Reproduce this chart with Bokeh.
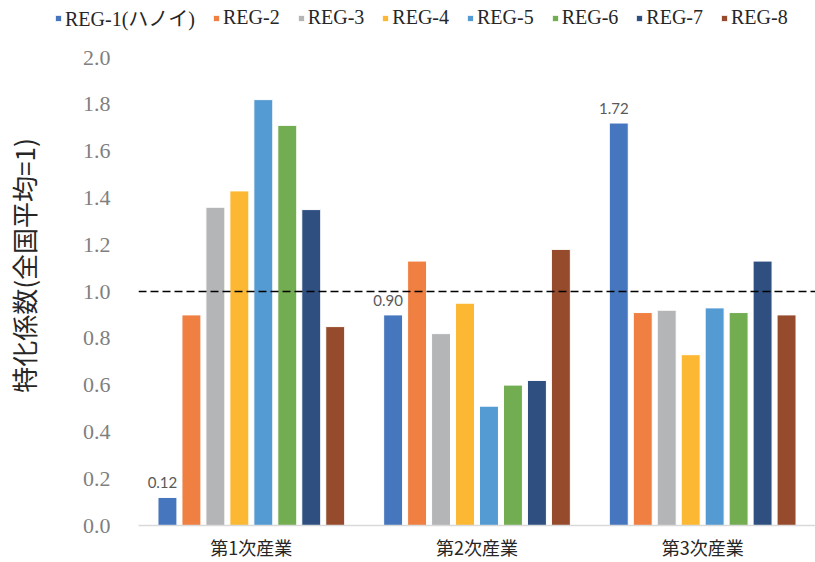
from bokeh.plotting import figure
from bokeh.layouts import column
from bokeh.models import (ColumnDataSource, FactorRange, Range1d, FixedTicker,
                          NumeralTickFormatter, Span, Legend, LegendItem)
from bokeh.transform import dodge
from bokeh.core.properties import value
from bokeh.embed import file_html
from bokeh.resources import INLINE

# Industry sectors on the x axis
sectors = ["第1次産業", "第2次産業", "第3次産業"]

# Regions (one bar each per sector)
regions = ["REG-1(ハノイ)", "REG-2", "REG-3", "REG-4",
           "REG-5", "REG-6", "REG-7", "REG-8"]

# Specialisation coefficient by region, per sector
reg1 = [0.12, 0.90, 1.72]
reg2 = [0.90, 1.13, 0.91]
reg3 = [1.36, 0.82, 0.92]
reg4 = [1.43, 0.95, 0.73]
reg5 = [1.82, 0.51, 0.93]
reg6 = [1.71, 0.60, 0.91]
reg7 = [1.35, 0.62, 1.13]
reg8 = [0.85, 1.18, 0.90]

national_average = 1.0
y_ticks = [0.0, 0.2, 0.4, 0.6, 0.8, 1.0, 1.2, 1.4, 1.6, 1.8, 2.0]
y_title = "特化係数(全国平均=1)"
# two ideographic spaces lift the visible title a little above mid-height
y_title_pad = "\u3000\u3000"

colors = ["#4677be", "#f07f42", "#b4b5b7", "#fdb833",
          "#559bd3", "#72ad52", "#2e4f80", "#964b2d"]

series = [reg1, reg2, reg3, reg4, reg5, reg6, reg7, reg8]
data = {"sector": sectors}
for i, s in enumerate(series):
    data[f"r{i}"] = s
data["lbl"] = [f"{v:.2f}" for v in reg1]
source = ColumnDataSource(data)

# ---- main bar chart ----
p = figure(x_range=FactorRange(*sectors), y_range=Range1d(0, 2.0),
           width=815, height=527, output_backend="svg", toolbar_location=None,
           min_border_left=138, min_border_right=0,
           min_border_top=22, min_border_bottom=35)
p.frame_align = False
p.outline_line_color = None
p.xgrid.visible = False
p.ygrid.visible = False
p.background_fill_color = "white"
p.border_fill_color = "white"

step = 0.1062
bar_w = 0.084
for i in range(8):
    off = (i - 3.5) * step
    p.vbar(x=dodge("sector", off, range=p.x_range), top=f"r{i}", width=bar_w,
           source=source, fill_color=colors[i], line_color="white", line_width=1)

# value labels on the REG-1 bars
p.text(x=dodge("sector", -3.5 * step, range=p.x_range), y="r0", text="lbl",
       source=source, text_align="center", text_baseline="bottom",
       y_offset=-9, x_offset=-5,
       text_font=value("Lato"), text_font_size="15px", text_color="#595959")

# national average reference line
p.add_layout(Span(location=national_average, dimension="width",
                  line_color="black", line_dash="8 4", line_width=1.3))

p.yaxis.ticker = FixedTicker(ticks=y_ticks)
p.yaxis.formatter = NumeralTickFormatter(format="0.0")
p.yaxis.major_label_text_font = "Liberation Serif"
p.yaxis.major_label_text_font_size = "22px"
p.yaxis.major_label_text_color = "#7f7f7f"
p.yaxis.axis_line_color = None
p.yaxis.major_tick_line_color = None
p.yaxis.minor_tick_line_color = None
p.yaxis.major_tick_out = 0
p.yaxis.minor_tick_out = 0
p.yaxis.major_label_standoff = 28
p.yaxis.axis_label = y_title_pad + y_title
p.yaxis.axis_label_standoff = 38
p.yaxis.axis_label_text_font = "Noto Sans CJK JP"
p.yaxis.axis_label_text_font_size = "26px"
p.yaxis.axis_label_text_font_style = "normal"
p.yaxis.axis_label_text_color = "#262626"

p.xaxis.axis_line_color = "#d9d9d9"
p.xaxis.axis_line_width = 1.5
p.xaxis.major_tick_line_color = None
p.xaxis.minor_tick_line_color = None
p.xaxis.major_tick_out = 0
p.xaxis.minor_tick_out = 0
p.xaxis.major_label_text_font = "Noto Sans CJK JP"
p.xaxis.major_label_text_font_size = "18px"
p.xaxis.major_label_text_color = "#262626"
p.xaxis.major_label_standoff = 8

# ---- legend strip across the top ----
lg = figure(width=815, height=35, output_backend="svg", toolbar_location=None,
            x_range=Range1d(0, 815), y_range=Range1d(0, 35),
            min_border=0)
lg.frame_align = False
lg.axis.visible = False
lg.grid.visible = False
lg.outline_line_color = None
lg.border_fill_color = "white"

swatches = []
for i in range(8):
    r = lg.vbar(x=dodge("sector", 0, range=p.x_range), top=f"r{i}", width=bar_w,
                source=source, fill_color=colors[i], line_color="white",
                line_width=1, visible=False)
    swatches.append(r)

legend = Legend(items=[LegendItem(label=regions[i], renderers=[swatches[i]]) for i in range(8)],
                orientation="horizontal", location=(54, 3),
                glyph_width=8, glyph_height=8, label_standoff=3, spacing=17,
                padding=0, margin=0, border_line_color=None,
                background_fill_alpha=0,
                label_text_font="'Liberation Serif', 'Noto Sans CJK JP'",
                label_text_font_size="20px", label_text_color="#262626")
lg.add_layout(legend)

open("out.html", "w").write(file_html(column(lg, p, spacing=0), INLINE))
